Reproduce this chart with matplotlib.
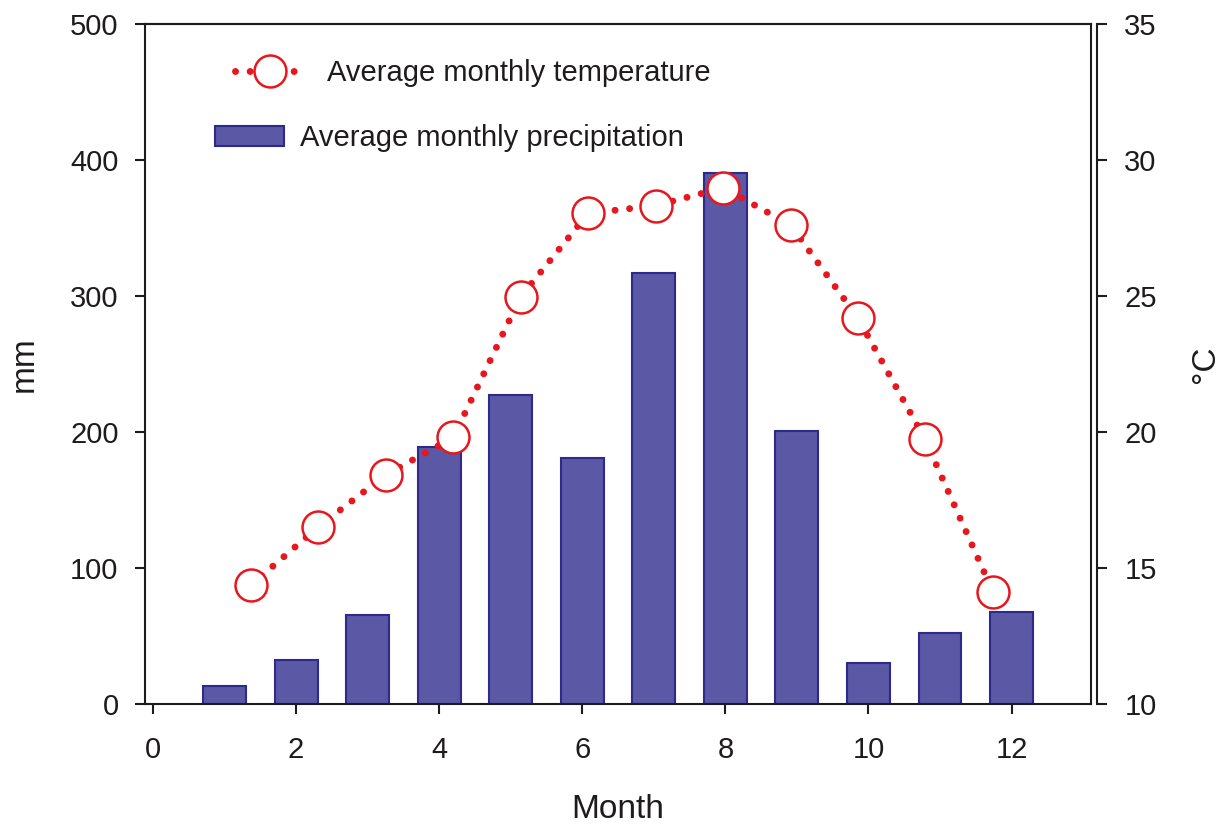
import matplotlib
matplotlib.use("Agg")
import matplotlib.pyplot as plt
from matplotlib.patches import Patch
from matplotlib.lines import Line2D

plt.rcParams['font.family'] = ['Liberation Sans', 'DejaVu Sans']

# data
months = [1, 2, 3, 4, 5, 6, 7, 8, 9, 10, 11, 12]
precip = [13.4, 32.4, 65.7, 189.2, 227, 181, 316.7, 390.7, 200.7, 30.4, 52, 67.6]
temp_x = [1.365, 2.31, 3.25, 4.197, 5.138, 6.083, 7.025, 7.97, 8.91, 9.85, 10.79, 11.74]
temp = [14.36, 16.51, 18.42, 19.80, 24.97, 28.04, 28.32, 28.98, 27.61, 24.2, 19.73, 14.12]

x_ticks = [0, 2, 4, 6, 8, 10, 12]
mm_ticks = [0, 100, 200, 300, 400, 500]
c_ticks = [10, 15, 20, 25, 30, 35]

red = '#e8161d'
bar_fill = '#5b58a6'
bar_edge = '#2c2a8c'
ink = '#1e1b1c'

W, H = 1230, 826
fig = plt.figure(figsize=(W / 100, H / 100), dpi=100)
ax = fig.add_axes([145 / W, 1 - 704 / H, (1091 - 145) / W, (704 - 24) / H])
ax2 = ax.twinx()

ax.bar(months, precip, width=0.6, color=bar_fill, edgecolor=bar_edge, linewidth=1.5, zorder=2)

dots = (0, (0.01, 2.1))
ax2.plot(temp_x, temp, color=red, lw=5, linestyle=dots, dash_capstyle='round',
         marker='o', markersize=23, markerfacecolor='white', markeredgecolor=red,
         markeredgewidth=1.8, zorder=3)

ax.set_xlim(-0.112, 13.11)
ax.set_ylim(0, 500)
ax2.set_ylim(10, 35)
ax.set_xticks(x_ticks)
ax.set_yticks(mm_ticks)
ax2.set_yticks(c_ticks)

for a in (ax, ax2):
    for s in a.spines.values():
        s.set_linewidth(1.5)
        s.set_color(ink)
    a.tick_params(colors=ink, labelcolor=ink, labelsize=21, width=1.5, length=7, direction='out')
ax.tick_params(axis='y', pad=12)
ax.tick_params(axis='x', pad=16)
ax2.tick_params(axis='y', pad=13)
ax2.spines['right'].set_position(('outward', 4))
ax2.spines['left'].set_visible(False)
ax2.spines['bottom'].set_visible(False)

ax.set_xlabel('Month', fontsize=24, color=ink, labelpad=22)
ax.set_ylabel('mm', fontsize=24, color=ink, labelpad=22)
ax2.set_ylabel('°C', fontsize=24, color=ink, labelpad=24, rotation=90)

# legends (two rows, placed separately like the original)
h1 = Line2D([], [], color=red, lw=5, linestyle=dots, dash_capstyle='round',
            marker='o', markersize=23, markerfacecolor='white', markeredgecolor=red,
            markeredgewidth=1.8)
leg1 = fig.legend([h1], ['Average monthly temperature'], loc='center left',
                  bbox_to_anchor=(235 / W, 1 - 73 / H), frameon=False, fontsize=21,
                  borderpad=0, borderaxespad=0, handlelength=2.4, handletextpad=0.75,
                  numpoints=1)
h2 = Patch(facecolor=bar_fill, edgecolor=bar_edge, linewidth=1.5)
leg2 = fig.legend([h2], ['Average monthly precipitation'], loc='center left',
                  bbox_to_anchor=(215 / W, 1 - 138 / H), frameon=False, fontsize=21,
                  borderpad=0, borderaxespad=0, handlelength=2.35, handleheight=0.7,
                  handletextpad=0.55)
for t in leg1.get_texts() + leg2.get_texts():
    t.set_color(ink)

fig.savefig('out.png', dpi=100)
